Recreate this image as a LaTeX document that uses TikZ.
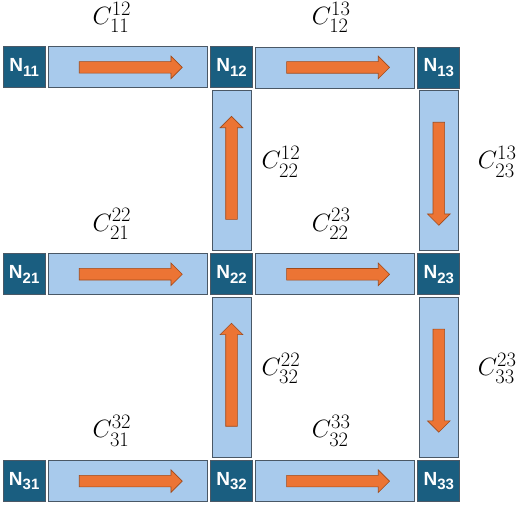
\RequirePackage{fix-cm}
\documentclass[tikz,border=0pt]{standalone}
\usepackage{amsmath}
\usepackage{fontspec}
\usepackage{tikz}
\usetikzlibrary{matrix,positioning,calc,shapes.arrows}
\newfontfamily\nodefont{Liberation Sans}
\DeclareMathSizes{25}{25}{20.5}{15}

\definecolor{nodeteal}{HTML}{1A5E80}
\definecolor{chanblue}{HTML}{A8CAEC}
\definecolor{chanline}{HTML}{4A5866}
\definecolor{flowfill}{HTML}{EC7434}
\definecolor{flowline}{HTML}{A04A1A}

\newcommand{\nlabel}[1]{{\fontsize{19}{19}\selectfont N}\raisebox{-4.5pt}{\fontsize{15}{15}\selectfont #1}}

\tikzset{
	junction/.style={draw=chanline, fill=nodeteal, text=white, font=\nodefont\bfseries,
		minimum width=42pt, minimum height=41pt, inner sep=0pt, line width=0.8pt},
	chanh/.style={draw=chanline, fill=chanblue, minimum width=159pt, minimum height=41pt,
		inner sep=0pt, line width=0.8pt},
	chanv/.style={draw=chanline, fill=chanblue, minimum width=39pt, minimum height=160pt,
		inner sep=0pt, line width=0.8pt},
	flow/.style={single arrow, draw=flowline, fill=flowfill, minimum height=103pt,
		inner sep=5.5pt, single arrow head extend=5.5pt, line width=0.6pt},
	cost/.style={font=\fontsize{25}{30}\selectfont, inner sep=0pt},
}

\begin{document}
\begin{tikzpicture}[x=1pt, y=-1pt]
	\useasboundingbox (0,0) rectangle (520,505);
	\matrix[matrix of nodes, name=m, nodes={junction}, column sep=164.5pt, row sep=165pt]
		at (231.5,274.25) {
	\nlabel{11} & \nlabel{12} & \nlabel{13} \\
	\nlabel{21} & \nlabel{22} & \nlabel{23} \\
	\nlabel{31} & \nlabel{32} & \nlabel{33} \\ };
	% horizontal channels
	\foreach \r in {1,2,3}
		\foreach \a/\b in {1/2,2/3} {
			\node[chanh] (h\r\a) at ($(m-\r-\a)!0.5!(m-\r-\b)$) {};
			\node[flow] at (h\r\a) {};
		}
	% vertical channels
	\foreach \a/\b in {1/2,2/3} {
		\node[chanv] (v\a2) at ($(m-\a-2)!0.5!(m-\b-2)$) {};
		\node[flow, rotate=90] at (v\a2) {};
		\node[chanv] (v\a3) at ($(m-\a-3)!0.5!(m-\b-3)$) {};
		\node[flow, rotate=-90] at (v\a3) {};
	}
	\node[cost, above=14pt of h11, xshift=-16pt] (c11) {$C_{11}^{12}$};
	\node[cost, above=14pt of h12, xshift=-4pt] (c12) {$C_{12}^{13}$};
	\node[cost, above=14pt of h21, xshift=-16pt] (c21) {$C_{21}^{22}$};
	\node[cost, above=14pt of h22, xshift=-4pt] (c22) {$C_{22}^{23}$};
	\node[cost, above=14pt of h31, xshift=-16pt] (c31) {$C_{31}^{32}$};
	\node[cost, above=14pt of h32, xshift=-4pt] (c32) {$C_{32}^{33}$};
	\node[cost, right=10pt of v12, yshift=9pt] (d12) {$C_{22}^{12}$};
	\node[cost, right=19pt of v13, yshift=9pt] (d13) {$C_{23}^{13}$};
	\node[cost, right=10pt of v22, yshift=9pt] (d22) {$C_{32}^{22}$};
	\node[cost, right=19pt of v23, yshift=9pt] (d23) {$C_{33}^{23}$};
\end{tikzpicture}
\end{document}
